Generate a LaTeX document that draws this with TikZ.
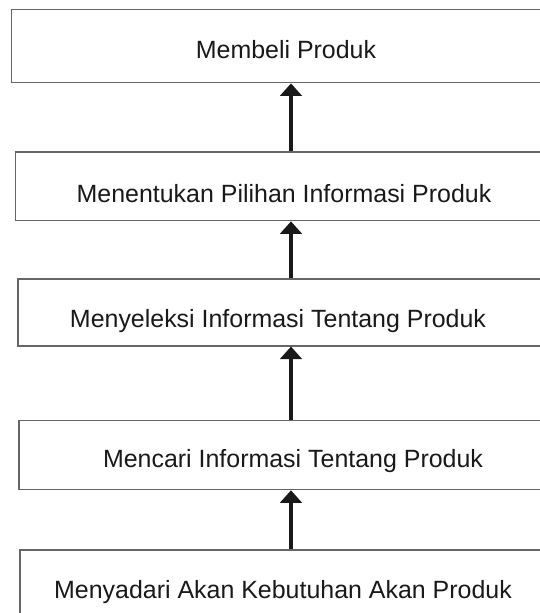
\documentclass[tikz,border=0pt]{standalone}
\usepackage{fontspec}
\setmainfont{Liberation Sans}
\usepackage{tikz}
\usetikzlibrary{arrows.meta}

\begin{document}
\begin{tikzpicture}[x=0.02cm, y=-0.02cm,
    box/.style={draw=black!60, line width=0.03cm, rectangle, inner sep=0pt},
    lbl/.style={anchor=base, inner sep=0pt, font=\fontsize{14.2}{17}\selectfont, text=black!90},
    arr/.style={line width=0.08cm, black!90, -{Triangle[width=0.43cm, length=0.25cm]}}]
    % Frame
    \clip (0, 0) rectangle (540, 613);
    \fill[white] (0, 0) rectangle (540, 613);
    % Def boxes
    \node[box, minimum width=10.97cm, minimum height=1.466cm] (b1) at (285.7, 46) {};
    \node[box, minimum width=10.89cm, minimum height=1.372cm] (b2) at (287.75, 186.3) {};
    \node[box, minimum width=10.84cm, minimum height=1.336cm] (b3) at (288.95, 312.4) {};
    \node[box, minimum width=10.82cm, minimum height=1.382cm] (b4) at (289.5, 455) {};
    \node[box, minimum width=10.80cm, minimum height=1.400cm] (b5) at (290, 585) {};
    \coordinate (ax) at (291, 0);
    % Labels
    \node[lbl] (t1) at (286, 58.3) {Membeli Produk};
    \node[lbl] (t2) at (284, 202.7) {Menentukan Pilihan Informasi Produk};
    \node[lbl] (t3) at (278, 327.5) {Menyeleksi Informasi Tentang Produk};
    \node[lbl] (t4) at (293, 467) {Mencari Informasi Tentang Produk};
    \node[lbl] (t5) at (283, 598) {Menyadari Akan Kebutuhan Akan Produk};
    % Draw arrows
    \draw[arr] (b2.north -| ax) -- (b1.south -| ax);
    \draw[arr] (b3.north -| ax) -- (b2.south -| ax);
    \draw[arr] (b4.north -| ax) -- (b3.south -| ax);
    \draw[arr] (b5.north -| ax) -- (b4.south -| ax);
\end{tikzpicture}
\end{document}
